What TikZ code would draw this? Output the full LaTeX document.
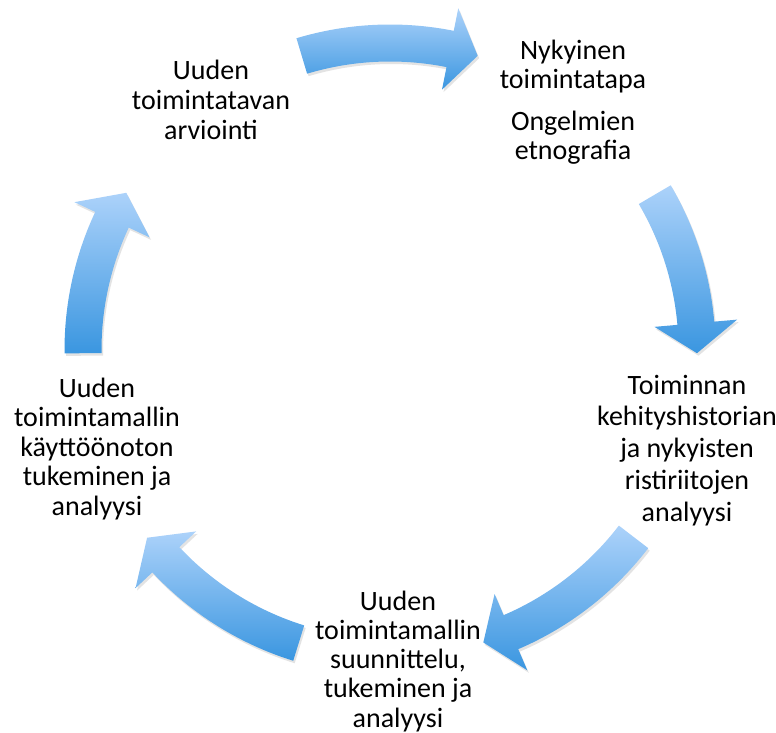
\documentclass[tikz,border=0pt]{standalone}
\usepackage{fontspec}
\setmainfont{Carlito}
\usetikzlibrary{shadows}
\definecolor{arrowlight}{RGB}{172,210,250}
\definecolor{arrowdark}{RGB}{58,150,224}
\tikzset{
  cyclearrow/.style={top color=arrowlight, bottom color=arrowdark, draw=none,
    drop shadow={shadow xshift=1.5pt, shadow yshift=-2.5pt, opacity=0.18, fill=black!60}},
  phasetext/.style={align=center, inner sep=0pt, anchor=base, text=black,
    font=\fontsize{28}{30.5}\selectfont},
}
% #1 tail angle, #2 head base angle, #3 tip angle
\newcommand\cycarrow[3]{%
  \path[cyclearrow] (#1:325.5pt) arc[start angle=#1, end angle=#2, radius=325.5pt]
    -- (#2:348.5pt) -- (#3:307pt) -- (#2:265.5pt) -- (#2:288.5pt)
    arc[start angle=#2, end angle=#1, radius=288.5pt] -- cycle;}
\begin{document}
\begin{tikzpicture}[x=1pt,y=1pt]
\useasboundingbox (-390,-383) rectangle (386,350);
\cycarrow{106.7}{78.7}{73.4}
\cycarrow{30.4}{5}{-0.6}
\cycarrow{-37.5}{-66.8}{-72.3}
\cycarrow{-107.3}{-136.9}{-142.3}
\cycarrow{180.6}{154.9}{149.2}
\node[phasetext, font=\fontsize{28}{30}\selectfont] (arvio) at (-179,210) {Uuden\\toimintatavan\\arviointi};
\node[phasetext, font=\fontsize{28}{29}\selectfont] (nyky) at (183,190) {Nykyinen\\toimintatapa\\[13pt]Ongelmien\\etnografia};
\node[phasetext, font=\fontsize{28}{31.75}\selectfont] (analyysi) at (297,-171) {Toiminnan\\kehityshistorian\\ja nykyisten\\ristiriitojen\\analyysi};
\node[phasetext, font=\fontsize{28}{29.2}\selectfont] (suunn) at (8,-377) {Uuden\\toimintamallin\\suunnittelu,\\tukeminen ja\\analyysi};
\node[phasetext, font=\fontsize{28}{29.5}\selectfont] (kaytto) at (-293,-165) {Uuden\\toimintamallin\\käyttöönoton\\tukeminen ja\\analyysi};
\end{tikzpicture}
\end{document}
